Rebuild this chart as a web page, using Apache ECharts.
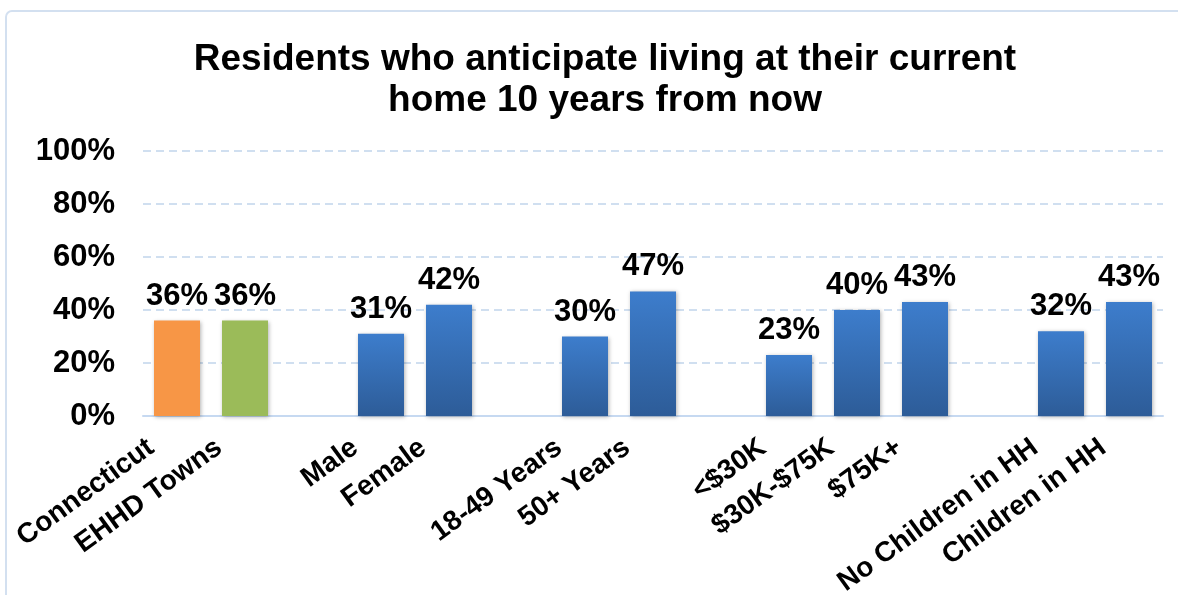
<!DOCTYPE html>
<html>
<head>
<meta charset="utf-8">
<script src="https://cdn.jsdelivr.net/npm/echarts@6/dist/echarts.min.js"></script>
<style>
html,body{margin:0;padding:0;background:#fff;}
#chart{width:1178px;height:595px;}
</style>
</head>
<body>
<div id="chart"></div>
<script>
// Data
const categories = ['Connecticut', 'EHHD Towns', ' ', 'Male', 'Female', '  ', '18-49 Years', '50+ Years', '   ', '<$30K', '$30K-$75K', '$75K+', '    ', 'No Children in HH', 'Children in HH'];
const values = [36, 36, null, 31, 42, null, 30, 47, null, 23, 40, 43, null, 32, 43];
const yTicks = [0, 20, 40, 60, 80, 100];
const titleText = 'Residents who anticipate living at their current\nhome 10 years from now';

const FONT = '"Liberation Sans", Arial, sans-serif';
const blueGrad = new echarts.graphic.LinearGradient(0, 0, 0, 1, [
  {offset: 0, color: '#3D7DCC'},
  {offset: 1, color: '#2D5C98'}
]);
const specialColors = {0: '#F79646', 1: '#9BBB59'};

const seriesData = values.map((v, i) => ({
  value: v,
  itemStyle: {color: specialColors[i] || blueGrad}
}));

const chart = echarts.init(document.getElementById('chart'), null, {renderer: 'canvas'});
chart.setOption({
  backgroundColor: '#fff',
  animation: false,
  graphic: [{
    type: 'rect',
    shape: {x: 6, y: 11, width: 1200, height: 620, r: 6},
    style: {fill: 'none', stroke: '#D3E0F0', lineWidth: 2},
    silent: true, z: -1
  }],
  title: {
    text: titleText,
    left: 600,
    top: 34,
    textAlign: 'center',
    textStyle: {fontFamily: FONT, fontWeight: 'bold', fontSize: 37, lineHeight: 41, color: '#000'}
  },
  grid: {left: 143, right: 15, top: 151, bottom: 179, containLabel: false, outerBoundsMode: 'none'},
  xAxis: {
    type: 'category',
    data: categories,
    axisLine: {show: true, lineStyle: {color: '#C6D9F1', width: 2}},
    axisTick: {show: false},
    axisLabel: {
      interval: 0,
      rotate: 36,
      margin: 10,
      color: '#000',
      fontFamily: FONT,
      fontWeight: 'bold',
      fontSize: 28,
      padding: [0, 32, 44, 0]
    }
  },
  yAxis: {
    type: 'value',
    min: 0, max: 100, interval: 20,
    axisLine: {show: false},
    axisTick: {show: false},
    splitLine: {show: true, lineStyle: {color: '#D0DFF0', type: [8, 5], width: 2}},
    axisLabel: {
      margin: 28,
      color: '#000',
      fontFamily: FONT,
      fontWeight: 'bold',
      fontSize: 31,
      formatter: v => (yTicks.indexOf(v) >= 0 ? v + '%' : '')
    }
  },
  series: [{
    type: 'bar',
    data: seriesData,
    barWidth: 46,
    itemStyle: {shadowBlur: 4, shadowColor: 'rgba(0,0,0,0.3)', shadowOffsetX: 1, shadowOffsetY: 1},
    label: {
      show: true,
      position: 'top',
      distance: 9,
      formatter: p => p.value + '%',
      color: '#000',
      fontFamily: FONT,
      fontWeight: 'bold',
      fontSize: 31
    }
  }]
});
</script>
</body>
</html>
